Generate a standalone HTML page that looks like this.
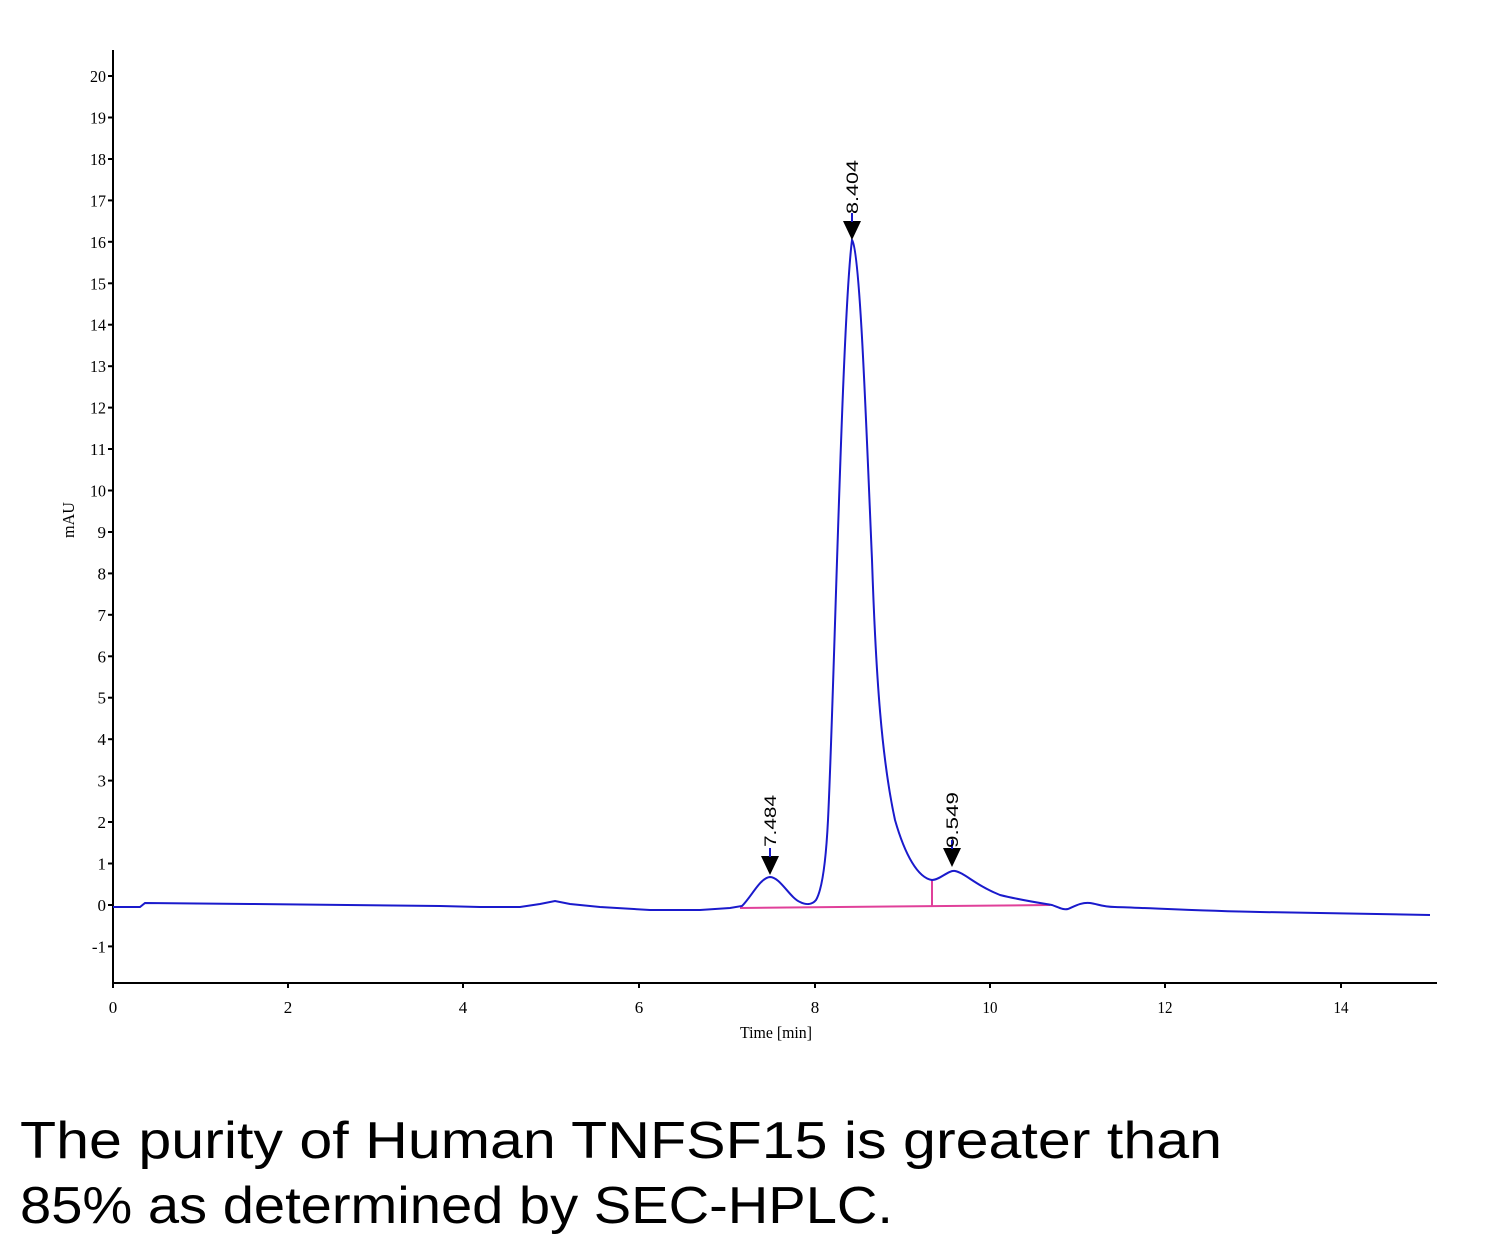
<!DOCTYPE html>
<html><head><meta charset="utf-8"><style>html,body{margin:0;padding:0;background:#fff}svg{display:block}</style></head>
<body>
<svg width="1500" height="1252" viewBox="0 0 1500 1252" xmlns="http://www.w3.org/2000/svg">
<rect width="1500" height="1252" fill="#fff"/>
<g stroke="#000" stroke-width="2" fill="none">
<line x1="113" y1="50" x2="113" y2="984"/>
<line x1="112" y1="983" x2="1437" y2="983"/>
</g>
<g stroke="#000" stroke-width="2">
<line x1="108" y1="76" x2="113" y2="76"/><line x1="108" y1="117.5" x2="113" y2="117.5"/><line x1="108" y1="159" x2="113" y2="159"/><line x1="108" y1="200.4" x2="113" y2="200.4"/><line x1="108" y1="241.8" x2="113" y2="241.8"/><line x1="108" y1="283.3" x2="113" y2="283.3"/><line x1="108" y1="324.7" x2="113" y2="324.7"/><line x1="108" y1="366.2" x2="113" y2="366.2"/><line x1="108" y1="407.6" x2="113" y2="407.6"/><line x1="108" y1="449" x2="113" y2="449"/><line x1="108" y1="490.5" x2="113" y2="490.5"/><line x1="108" y1="532" x2="113" y2="532"/><line x1="108" y1="573.4" x2="113" y2="573.4"/><line x1="108" y1="614.8" x2="113" y2="614.8"/><line x1="108" y1="656.3" x2="113" y2="656.3"/><line x1="108" y1="697.7" x2="113" y2="697.7"/><line x1="108" y1="739.2" x2="113" y2="739.2"/><line x1="108" y1="780.6" x2="113" y2="780.6"/><line x1="108" y1="822" x2="113" y2="822"/><line x1="108" y1="863.5" x2="113" y2="863.5"/><line x1="108" y1="905" x2="113" y2="905"/><line x1="108" y1="946.4" x2="113" y2="946.4"/>
<line x1="113" y1="983" x2="113" y2="988"/><line x1="288" y1="983" x2="288" y2="988"/><line x1="463" y1="983" x2="463" y2="988"/><line x1="639" y1="983" x2="639" y2="988"/><line x1="815" y1="983" x2="815" y2="988"/><line x1="990" y1="983" x2="990" y2="988"/><line x1="1165" y1="983" x2="1165" y2="988"/><line x1="1341" y1="983" x2="1341" y2="988"/>
</g>
<g font-family="Liberation Serif, serif" font-size="17" fill="#000" text-anchor="end">
<text x="106" y="82" textLength="16" lengthAdjust="spacingAndGlyphs">20</text>
<text x="106" y="123.5" textLength="16" lengthAdjust="spacingAndGlyphs">19</text>
<text x="106" y="165" textLength="16" lengthAdjust="spacingAndGlyphs">18</text>
<text x="106" y="206.4" textLength="16" lengthAdjust="spacingAndGlyphs">17</text>
<text x="106" y="247.8" textLength="16" lengthAdjust="spacingAndGlyphs">16</text>
<text x="106" y="289.3" textLength="16" lengthAdjust="spacingAndGlyphs">15</text>
<text x="106" y="330.7" textLength="16" lengthAdjust="spacingAndGlyphs">14</text>
<text x="106" y="372.2" textLength="16" lengthAdjust="spacingAndGlyphs">13</text>
<text x="106" y="413.6" textLength="16" lengthAdjust="spacingAndGlyphs">12</text>
<text x="106" y="455" textLength="16" lengthAdjust="spacingAndGlyphs">11</text>
<text x="106" y="496.5" textLength="16" lengthAdjust="spacingAndGlyphs">10</text>
<text x="106" y="538">9</text><text x="106" y="579.4">8</text><text x="106" y="620.8">7</text><text x="106" y="662.3">6</text><text x="106" y="703.7">5</text><text x="106" y="745.2">4</text><text x="106" y="786.6">3</text><text x="106" y="828">2</text><text x="106" y="869.5">1</text><text x="106" y="911">0</text><text x="106" y="952.4">-1</text>
</g>
<g font-family="Liberation Serif, serif" font-size="17" fill="#000" text-anchor="middle">
<text x="113" y="1013">0</text><text x="288" y="1013">2</text><text x="463" y="1013">4</text><text x="639" y="1013">6</text><text x="815" y="1013">8</text>
<text x="990" y="1013" textLength="15" lengthAdjust="spacingAndGlyphs">10</text><text x="1165" y="1013" textLength="15" lengthAdjust="spacingAndGlyphs">12</text><text x="1341" y="1013" textLength="15" lengthAdjust="spacingAndGlyphs">14</text>
<text x="776" y="1038" textLength="72" lengthAdjust="spacingAndGlyphs">Time [min]</text>
<text transform="translate(74,520) rotate(-90)" textLength="36" lengthAdjust="spacingAndGlyphs">mAU</text>
</g>
<!-- baseline -->
<g stroke="#e0409a" stroke-width="2" fill="none">
<line x1="740" y1="908" x2="1050" y2="905"/>
<line x1="932" y1="880" x2="932" y2="906"/>
</g>
<path fill="none" stroke="#1a1acc" stroke-width="2" d="M113,907 L140,907 L145,903 L250,904 L440,906 L480,907 L520,907 L540,904 L555,901 L570,904 L600,907 L650,910 L700,910 L730,908 L742,906 C752,896 760,878 770,877 C780,877 790,898 800,902 C806,905 812,905 816,900 C822,890 826,860 828,820 C834,700 842,320 852,240 C860,250 866,420 872,560 C876,680 882,760 895,820 C905,855 918,878 932,880 C940,880 948,870 955,871 C965,873 975,885 1000,895 C1020,900 1040,903 1052,905 C1060,908 1063,910 1068,909 C1075,906 1082,902 1090,903 C1098,904 1102,907 1115,907 C1150,908 1200,911 1260,912 C1330,913 1390,914 1430,915"/>
<g fill="#000">
<polygon points="761,856 779,856 770,875"/>
<polygon points="843,221 861,221 852,240"/>
<polygon points="943,848 961,848 952,867"/>
</g>
<g stroke="#1a1acc" stroke-width="2">
<line x1="770" y1="848" x2="770" y2="857"/>
<line x1="852" y1="213" x2="852" y2="222"/>
<line x1="952" y1="840" x2="952" y2="849"/>
</g>
<g font-family="Liberation Sans, sans-serif" font-size="17" fill="#000">
<text transform="translate(776,847) rotate(-90)" textLength="52" lengthAdjust="spacingAndGlyphs">7.484</text>
<text transform="translate(858,214) rotate(-90)" textLength="54" lengthAdjust="spacingAndGlyphs">8.404</text>
<text transform="translate(958,848) rotate(-90)" textLength="56" lengthAdjust="spacingAndGlyphs">9.549</text>
</g>
<g font-family="Liberation Sans, sans-serif" font-size="52" fill="#000">
<text x="20" y="1158" textLength="1202" lengthAdjust="spacingAndGlyphs">The purity of Human TNFSF15 is greater than</text>
<text x="20" y="1223" textLength="873" lengthAdjust="spacingAndGlyphs">85% as determined by SEC-HPLC.</text>
</g>
</svg>
</body></html>
